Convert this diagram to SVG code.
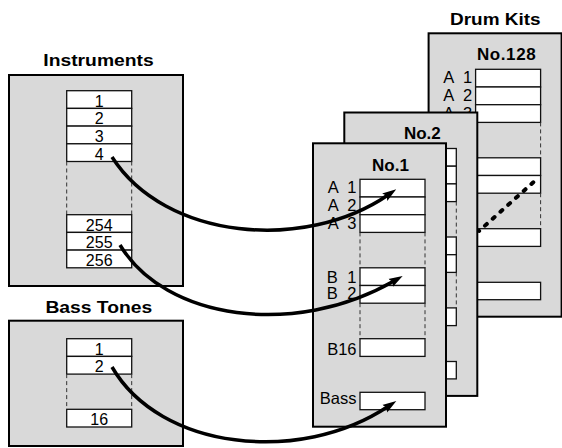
<svg xmlns="http://www.w3.org/2000/svg" width="562" height="448" viewBox="0 0 562 448">
<style>
.box{fill:#d9d9d9;stroke:#000;stroke-width:2}
.cell{fill:#fff;stroke:#111;stroke-width:1.3}
.dash{stroke:#333;stroke-width:1;stroke-dasharray:4 3;fill:none}
.title{font-family:"Liberation Sans",Arial,sans-serif;font-weight:bold;font-size:17px;text-anchor:middle;fill:#000}
.big{font-size:16.5px}
.num{font-family:"Liberation Sans",Arial,sans-serif;font-size:16px;text-anchor:middle;fill:#000}
.lbl{font-family:"Liberation Sans",Arial,sans-serif;font-size:16.5px;text-anchor:end;word-spacing:5px;fill:#000}
.conn{fill:none;stroke:#000;stroke-width:3.5}
</style>
<defs>
<marker id="arrow" markerUnits="userSpaceOnUse" viewBox="0 0 14 10" markerWidth="14" markerHeight="10" refX="4" refY="5" orient="auto">
<path d="M0,0.5 L14,5 L0,9.5 L2.5,5 z" fill="#000"/>
</marker>
</defs>

<g id="instruments">
<text class="title big" transform="translate(98.5,66) scale(1.17,1)">Instruments</text>
<rect class="box" x="9" y="75" width="174" height="211"/>
<rect class="cell" x="66.7" y="90.7" width="65" height="17.7"/>
<rect class="cell" x="66.7" y="108.4" width="65" height="17.7"/>
<rect class="cell" x="66.7" y="126.1" width="65" height="17.7"/>
<rect class="cell" x="66.7" y="143.8" width="65" height="17.7"/>
<line class="dash" x1="66.7" y1="161.5" x2="66.7" y2="214.7"/>
<line class="dash" x1="131.7" y1="161.5" x2="131.7" y2="214.7"/>
<rect class="cell" x="66.7" y="214.7" width="65" height="17.7"/>
<rect class="cell" x="66.7" y="232.4" width="65" height="17.7"/>
<rect class="cell" x="66.7" y="250.1" width="65" height="17.7"/>
<text class="num" x="99.2" y="106.7">1</text>
<text class="num" x="99.2" y="124.4">2</text>
<text class="num" x="99.2" y="142.1">3</text>
<text class="num" x="99.2" y="159.8">4</text>
<text class="num" x="99.2" y="230.7">254</text>
<text class="num" x="99.2" y="248.4">255</text>
<text class="num" x="99.2" y="266.1">256</text>
</g>

<g id="bass-tones">
<text class="title big" transform="translate(98.8,313) scale(1.17,1)">Bass Tones</text>
<rect class="box" x="9" y="320.7" width="174" height="125.3"/>
<rect class="cell" x="66.7" y="338.7" width="65" height="17.7"/>
<rect class="cell" x="66.7" y="356.4" width="65" height="17.7"/>
<line class="dash" x1="66.7" y1="374.1" x2="66.7" y2="409.3"/>
<line class="dash" x1="131.7" y1="374.1" x2="131.7" y2="409.3"/>
<rect class="cell" x="66.7" y="409.3" width="65" height="17.7"/>
<text class="num" x="99.2" y="354.7">1</text>
<text class="num" x="99.2" y="372.4">2</text>
<text class="num" x="99.2" y="425.3">16</text>
</g>

<g id="drum-kits-title">
<text class="title big" transform="translate(495.3,25) scale(1.15,1)">Drum Kits</text>
</g>

<g id="kit-128" transform="translate(428.6,33.3)">
<rect class="box" x="0" y="0" width="133" height="283.4"/>
<text class="title" x="78" y="27" letter-spacing="0.6">No.128</text>
<rect class="cell" x="47" y="36" width="65" height="17.7"/>
<rect class="cell" x="47" y="53.7" width="65" height="17.7"/>
<rect class="cell" x="47" y="71.4" width="65" height="17.7"/>
<line class="dash" x1="47" y1="89.1" x2="47" y2="124.5"/>
<line class="dash" x1="112" y1="89.1" x2="112" y2="124.5"/>
<rect class="cell" x="47" y="124.5" width="65" height="17.7"/>
<rect class="cell" x="47" y="142.2" width="65" height="17.7"/>
<line class="dash" x1="47" y1="159.9" x2="47" y2="195.4"/>
<line class="dash" x1="112" y1="159.9" x2="112" y2="195.4"/>
<rect class="cell" x="47" y="195.4" width="65" height="17.7"/>
<rect class="cell" x="47" y="249" width="65" height="17.4"/>
<text class="lbl" x="43.5" y="50.2">A 1</text>
<text class="lbl" x="43.5" y="68.2">A 2</text>
<text class="lbl" x="43.5" y="86">A 3</text>
</g>

<g id="kit-2" transform="translate(344.3,112.5)">
<rect class="box" x="0" y="0" width="133" height="283.4"/>
<text class="title" x="78" y="26">No.2</text>
<rect class="cell" x="47" y="36" width="65" height="17.7"/>
<rect class="cell" x="47" y="53.7" width="65" height="17.7"/>
<rect class="cell" x="47" y="71.4" width="65" height="17.7"/>
<line class="dash" x1="47" y1="89.1" x2="47" y2="124.5"/>
<line class="dash" x1="112" y1="89.1" x2="112" y2="124.5"/>
<rect class="cell" x="47" y="124.5" width="65" height="17.7"/>
<rect class="cell" x="47" y="142.2" width="65" height="17.7"/>
<line class="dash" x1="47" y1="159.9" x2="47" y2="195.4"/>
<line class="dash" x1="112" y1="159.9" x2="112" y2="195.4"/>
<rect class="cell" x="47" y="195.4" width="65" height="17.7"/>
<rect class="cell" x="47" y="249" width="65" height="17.4"/>
</g>

<g id="kit-1" transform="translate(313,143.3)">
<rect class="box" x="0" y="0" width="133" height="283.4"/>
<text class="title" x="77.5" y="27.7">No.1</text>
<rect class="cell" x="47" y="36" width="65" height="17.7"/>
<rect class="cell" x="47" y="53.7" width="65" height="17.7"/>
<rect class="cell" x="47" y="71.4" width="65" height="17.7"/>
<line class="dash" x1="47" y1="89.1" x2="47" y2="124.5"/>
<line class="dash" x1="112" y1="89.1" x2="112" y2="124.5"/>
<rect class="cell" x="47" y="124.5" width="65" height="17.7"/>
<rect class="cell" x="47" y="142.2" width="65" height="17.7"/>
<line class="dash" x1="47" y1="159.9" x2="47" y2="195.4"/>
<line class="dash" x1="112" y1="159.9" x2="112" y2="195.4"/>
<rect class="cell" x="47" y="195.4" width="65" height="17.7"/>
<rect class="cell" x="47" y="249" width="65" height="17.4"/>
<text class="lbl" x="43.5" y="50.2">A 1</text>
<text class="lbl" x="43.5" y="68.2">A 2</text>
<text class="lbl" x="43.5" y="86">A 3</text>
<text class="lbl" x="43.5" y="139.4">B 1</text>
<text class="lbl" x="43.5" y="156">B 2</text>
<text class="lbl" x="43.5" y="211.7">B16</text>
<text class="lbl" x="43.5" y="260.7">Bass</text>
</g>

<g id="connectors">
<path class="conn" d="M112,157 C165,240 305,252 388,195" marker-end="url(#arrow)"/>
<path class="conn" d="M120,245 C165,320 295,338 394,281" marker-end="url(#arrow)"/>
<path class="conn" d="M112,367 C160,450 300,465 388,406.5" marker-end="url(#arrow)"/>
<path d="M533.3,182.3 L479,231" fill="none" stroke="#000" stroke-width="4" stroke-linecap="round" stroke-dasharray="2.5 7.9"/>
</g>
</svg>
